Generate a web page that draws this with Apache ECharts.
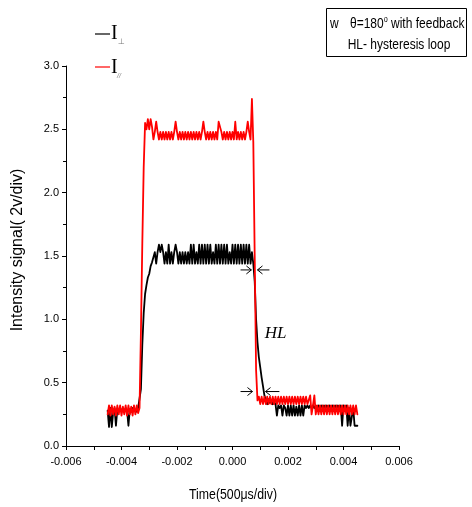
<!DOCTYPE html>
<html><head><meta charset="utf-8">
<script src="https://cdn.jsdelivr.net/npm/echarts@6/dist/echarts.min.js"></script>
<style>html,body{margin:0;padding:0;background:#fff}#c{width:472px;height:507px}</style>
</head><body><div id="c"></div>
<script>
// oscilloscope sampling grid (s)
const sampleStart = -0.0045;
const sampleInterval = 0.00005;

// I_perp (black) samples
const iPerp = [
0.28,0.15,0.30,0.15,0.27,0.30,0.16,0.29,0.27,0.30,0.28,0.29,0.27,0.30,0.28,0.16,0.29,0.27,0.30,0.28,0.29,0.27,0.30,
0.30,0.45,0.80,1.05,1.20,1.27,1.33,1.36,1.42,1.45,
1.44,1.53,1.44,1.53,1.59,1.53,1.59,1.53,1.44,1.53,1.44,1.59,1.44,1.53,1.44,1.53,1.59,1.53,1.44,1.53,1.44,1.53,1.44,1.53,1.44,1.53,1.44,
1.59,1.44,1.59,1.44,1.53,1.44,1.59,1.44,1.59,1.44,1.59,1.44,1.59,1.44,1.59,1.44,1.53,1.44,1.59,1.44,1.59,1.44,1.59,1.44,1.59,1.44,1.59,1.44,1.53,1.44,1.59,1.44,1.59,1.44,1.59,1.44,1.59,1.44,1.59,1.44,1.59,1.44,1.59,1.44,1.53,
1.44,1.30,1.00,0.82,0.70,0.62,0.54,0.47,0.40,0.36,
0.33,0.37,0.34,0.36,0.33,0.35,0.33,
0.24,0.32,0.30,0.32,0.24,0.32,0.30,0.24,0.32,0.24,0.32,0.24,0.32,0.24,0.31,0.24,0.32,0.24,0.32,0.24,0.32,0.30,0.32,0.30,0.32,0.30,0.32,0.30,0.32,0.30,0.32,0.30,0.32,0.30,0.32,0.30,0.32,0.30,0.32,0.30,0.32,0.30,0.32,0.30,0.32,0.30,0.32,0.16,0.32,0.30,0.32,0.16,0.30,0.16,0.16,0.30,0.16,0.16,0.16
];

// I_par (red) samples
const iPar = [
0.25,0.32,0.24,0.32,0.25,0.31,0.24,0.32,0.25,0.32,0.24,0.31,0.25,0.32,0.24,0.32,0.25,0.31,0.24,0.32,0.25,0.32,0.26,
0.30,0.90,1.60,2.20,2.55,
2.50,2.58,2.50,2.58,2.52,
2.42,2.48,2.56,2.48,2.42,2.48,2.42,2.48,2.42,2.48,2.42,2.48,2.42,2.48,2.42,2.48,2.56,2.48,2.42,2.48,2.42,2.48,2.42,2.48,2.42,2.48,2.42,2.48,2.42,2.48,2.42,2.48,2.42,2.48,2.42,2.48,2.56,2.48,2.42,2.48,2.42,2.48,2.42,2.48,2.42,2.48,2.42,2.56,2.56,2.48,2.42,2.48,2.42,2.48,2.42,2.48,2.42,2.48,2.42,2.56,2.42,2.48,2.42,2.48,2.42,2.48,2.42,2.48,2.56,2.48,2.42,
2.74,2.40,1.50,0.60,0.36,
0.39,0.33,0.39,0.33,0.39,0.33,0.39,0.33,0.39,0.33,0.39,0.33,0.39,0.33,0.39,0.33,0.39,0.33,0.39,0.33,0.39,0.33,0.39,0.33,0.39,0.33,0.39,0.33,0.39,0.33,0.39,0.33,0.39,0.33,0.39,0.33,
0.32,0.40,0.25,0.32,0.40,0.25,
0.32,0.25,0.32,0.25,0.32,0.25,0.32,0.25,0.32,0.25,0.32,0.25,0.32,0.25,0.32,0.25,0.32,0.25,0.32,0.25,0.32,0.25,0.32,0.25,0.32,0.25,0.32,0.25,0.32,0.25
];

// axis settings
const xRange = [-0.006, 0.006], xStep = 0.002;
const yRange = [0, 3], yStep = 0.5;

// annotation arrows (data coords): [tail, tip]
const arrows = [
  [[0.00029, 1.39], [0.00068, 1.39]],
  [[0.00133, 1.39], [0.00090, 1.39]],
  [[0.00029, 0.43], [0.00072, 0.43]],
  [[0.00169, 0.43], [0.00119, 0.43]]
];
const hlLabel = {text: 'HL', at: [0.00155, 0.89]};

const sans = "'Liberation Sans',Arial,sans-serif";
const time = iPerp.map((_, i) => +(sampleStart + i * sampleInterval).toFixed(5));
const perpData = time.map((t, i) => [t, iPerp[i]]);
const parData = time.map((t, i) => [t, iPar[i]]);

const chart = echarts.init(document.getElementById('c'), null, {renderer: 'canvas'});
chart.setOption({
  animation: false,
  backgroundColor: '#fff',
  grid: {left: 66, right: 73, top: 66, bottom: 61},
  xAxis: {
    type: 'value', min: xRange[0], max: xRange[1], interval: xStep,
    axisLine: {show: true, onZero: false, lineStyle: {color: '#000', width: 1}},
    axisTick: {show: true, inside: false, length: 4, lineStyle: {color: '#000'}},
    minorTick: {show: true, splitNumber: 2, length: 4, lineStyle: {color: '#000'}},
    splitLine: {show: false},
    axisLabel: {fontFamily: sans, fontSize: 11, color: '#000', margin: 10,
      formatter: v => v.toFixed(3)}
  },
  yAxis: {
    type: 'value', min: yRange[0], max: yRange[1], interval: yStep,
    axisLine: {show: true, onZero: false, lineStyle: {color: '#000', width: 1}},
    axisTick: {show: true, inside: false, length: 4, lineStyle: {color: '#000'}},
    minorTick: {show: true, splitNumber: 2, length: 3, lineStyle: {color: '#000'}},
    splitLine: {show: false},
    axisLabel: {fontFamily: sans, fontSize: 11, color: '#000', margin: 7,
      formatter: v => v.toFixed(1)}
  },
  series: [
    {type: 'line', name: 'perp', data: perpData, showSymbol: false, symbol: 'none',
     lineStyle: {color: '#000', width: 1.8, join: 'round', cap: 'round'}, z: 2},
    {type: 'line', name: 'par', data: parData, showSymbol: false, symbol: 'none',
     lineStyle: {color: '#ff0000', width: 1.8, join: 'round', cap: 'round'}, z: 3}
  ]
});

function px(p) { return chart.convertToPixel({gridIndex: 0}, p); }
const g = [];
arrows.forEach(([tail, tip]) => {
  const a = px(tail), b = px(tip);
  const dir = Math.sign(b[0] - a[0]);
  g.push({type: 'line', shape: {x1: a[0], y1: a[1], x2: b[0], y2: b[1]}, style: {stroke: '#000', lineWidth: 1}, z: 10});
  g.push({type: 'polyline', shape: {points: [[b[0] - dir * 5, b[1] - 4], [b[0], b[1]], [b[0] - dir * 5, b[1] + 4]]}, style: {stroke: '#000', lineWidth: 1, fill: null}, z: 10});
});
const hp = px(hlLabel.at);
g.push({type: 'text', x: hp[0], y: hp[1], style: {text: hlLabel.text, font: "italic 17px 'Liberation Serif','Times New Roman',serif", fill: '#000', align: 'center', verticalAlign: 'middle'}, z: 10});

// axis names
g.push({type: 'text', x: 233, y: 495, scaleX: 0.82, style: {text: 'Time(500\u03bcs/div)', font: "15px " + sans, fill: '#000', align: 'center', verticalAlign: 'middle'}});
g.push({type: 'text', x: 18, y: 250, rotation: Math.PI / 2, style: {text: 'Intensity signal( 2v/div)', font: "16px " + sans, fill: '#000', align: 'center', verticalAlign: 'middle'}});

// legend
g.push({type: 'line', shape: {x1: 95, y1: 34, x2: 110, y2: 34}, style: {stroke: '#000', lineWidth: 1.2}});
g.push({type: 'text', x: 111, y: 34, style: {text: 'I', font: "20px 'Liberation Serif',serif", fill: '#000', verticalAlign: 'middle'}});
g.push({type: 'text', x: 118, y: 42, style: {text: '\u22a5', font: "8px 'DejaVu Sans',sans-serif", fill: '#777', verticalAlign: 'middle'}});
g.push({type: 'line', shape: {x1: 95, y1: 67, x2: 110, y2: 67}, style: {stroke: '#ff0000', lineWidth: 1.2}});
g.push({type: 'text', x: 111, y: 68, style: {text: 'I', font: "20px 'Liberation Serif',serif", fill: '#000', verticalAlign: 'middle'}});
g.push({type: 'text', x: 117, y: 76, style: {text: '//', font: "italic 7px 'Liberation Sans',sans-serif", fill: '#888', verticalAlign: 'middle'}});

// info box
g.push({type: 'rect', shape: {x: 326.5, y: 8.5, width: 140, height: 48}, style: {stroke: '#000', lineWidth: 1, fill: '#fff'}});
g.push({type: 'text', x: 330, y: 24, scaleX: 0.8, style: {text: 'w', font: "15px " + sans, fill: '#000', verticalAlign: 'middle'}});
g.push({type: 'text', x: 350, y: 24, scaleX: 0.8, style: {
  text: '{a|\u03b8=180}{s|o}{a| with feedback}',
  rich: {a: {font: "15px " + sans, fill: '#000'}, s: {font: "9px " + sans, fill: '#000', verticalAlign: 'top', padding: [0, 0, 8, 0]}},
  verticalAlign: 'middle'}});
g.push({type: 'text', x: 399, y: 45, scaleX: 0.8, style: {text: 'HL- hysteresis loop', font: "15px " + sans, fill: '#000', align: 'center', verticalAlign: 'middle'}});

chart.setOption({graphic: g});
</script>
</body></html>
